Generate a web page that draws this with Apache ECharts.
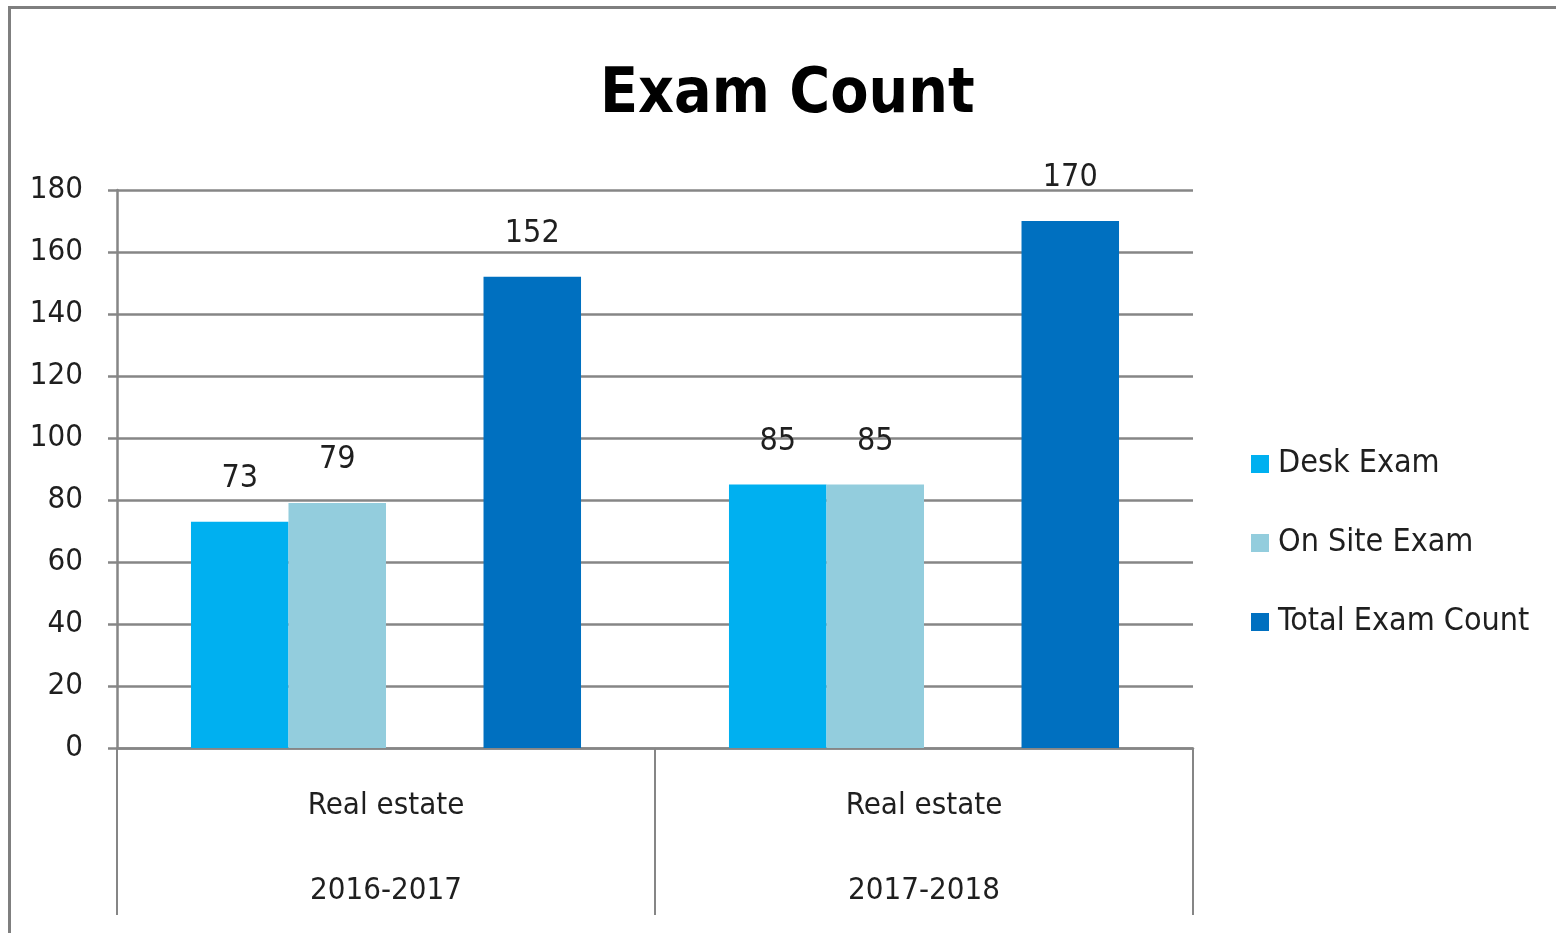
<!DOCTYPE html>
<html>
<head>
<meta charset="utf-8">
<script src="https://cdn.jsdelivr.net/npm/echarts@6/dist/echarts.min.js"></script>
<style>
  html, body { margin: 0; padding: 0; background: #fff; }
  #wrap { position: relative; width: 1556px; height: 933px; }
  #examChart { position: absolute; left: 0; top: 0; width: 1556px; height: 933px; }
  #frame {
    position: absolute; left: 8px; top: 6px; right: 0; bottom: 0;
    border-top: 3px solid #7f7f7f; border-left: 3px solid #7f7f7f;
    pointer-events: none;
  }
</style>
</head>
<body>
<div id="wrap">
  <div id="examChart"></div>
  <div id="frame"></div>
</div>
<script>
const categories = ['Real estate\n2016-2017', 'Real estate\n2017-2018'];
const deskExam = [73, 85];
const onSiteExam = [79, 85];
const emptySlot = [null, null]; // blank series slot from the original sheet
const totalExamCount = [152, 170];
const yTicks = { min: 0, max: 180, interval: 20 };

const font = '"Liberation Sans Narrow", "DejaVu Sans Condensed", "Liberation Sans", sans-serif';
const textColor = '#1f1f1f';
const lineColor = '#868686';

var chartDom = document.getElementById('examChart');
var myChart = echarts.init(chartDom);

const barLabel = {
  show: true,
  position: 'top',
  distance: 27,
  color: textColor,
  fontSize: 32,
  fontFamily: font
};

const series = [
  { name: 'Desk Exam', data: deskExam, color: '#00B0F0' },
  { name: 'On Site Exam', data: onSiteExam, color: '#93CDDD' },
  { name: '', data: emptySlot, color: '#ffffff' },
  { name: 'Total Exam Count', data: totalExamCount, color: '#0070C0' }
].map(function (s) {
  return {
    name: s.name,
    type: 'bar',
    data: s.data,
    barGap: 0,
    barCategoryGap: '27.5%',
    itemStyle: { color: s.color },
    label: barLabel,
    emphasis: { disabled: true }
  };
});

var option = {
  animation: false,
  textStyle: { fontFamily: font },
  title: {
    text: 'Exam Count',
    left: 595,
    top: 60,
    textStyle: {
      fontFamily: font,
      fontSize: 62,
      fontWeight: 'bold',
      color: '#000'
    }
  },
  legend: {
    orient: 'vertical',
    left: 1246,
    top: 439,
    itemWidth: 18,
    itemHeight: 18,
    itemGap: 39,
    icon: 'rect',
    data: ['Desk Exam', 'On Site Exam', 'Total Exam Count'],
    textStyle: {
      fontFamily: font,
      fontSize: 32,
      lineHeight: 40,
      color: textColor,
      padding: [0, 0, 0, 4]
    }
  },
  grid: {
    left: 117,
    right: 363,
    top: 190,
    bottom: 185
  },
  xAxis: {
    type: 'category',
    data: categories,
    axisLine: { lineStyle: { color: lineColor, width: 2.5 } },
    axisTick: {
      show: true,
      interval: 0,
      length: 167,
      lineStyle: { color: lineColor, width: 2 }
    },
    axisLabel: {
      margin: 15,
      fontSize: 31,
      lineHeight: 85,
      color: textColor,
      fontFamily: font
    }
  },
  yAxis: {
    type: 'value',
    min: yTicks.min,
    max: yTicks.max,
    interval: yTicks.interval,
    axisLine: { show: true, lineStyle: { color: lineColor, width: 2.5 } },
    axisTick: { show: true, length: 9, lineStyle: { color: lineColor, width: 2.5 } },
    axisLabel: {
      margin: 34,
      fontSize: 31,
      color: textColor,
      fontFamily: font
    },
    splitLine: { show: true, lineStyle: { color: lineColor, width: 2.5 } }
  },
  series: series
};

option && myChart.setOption(option);
</script>
</body>
</html>
